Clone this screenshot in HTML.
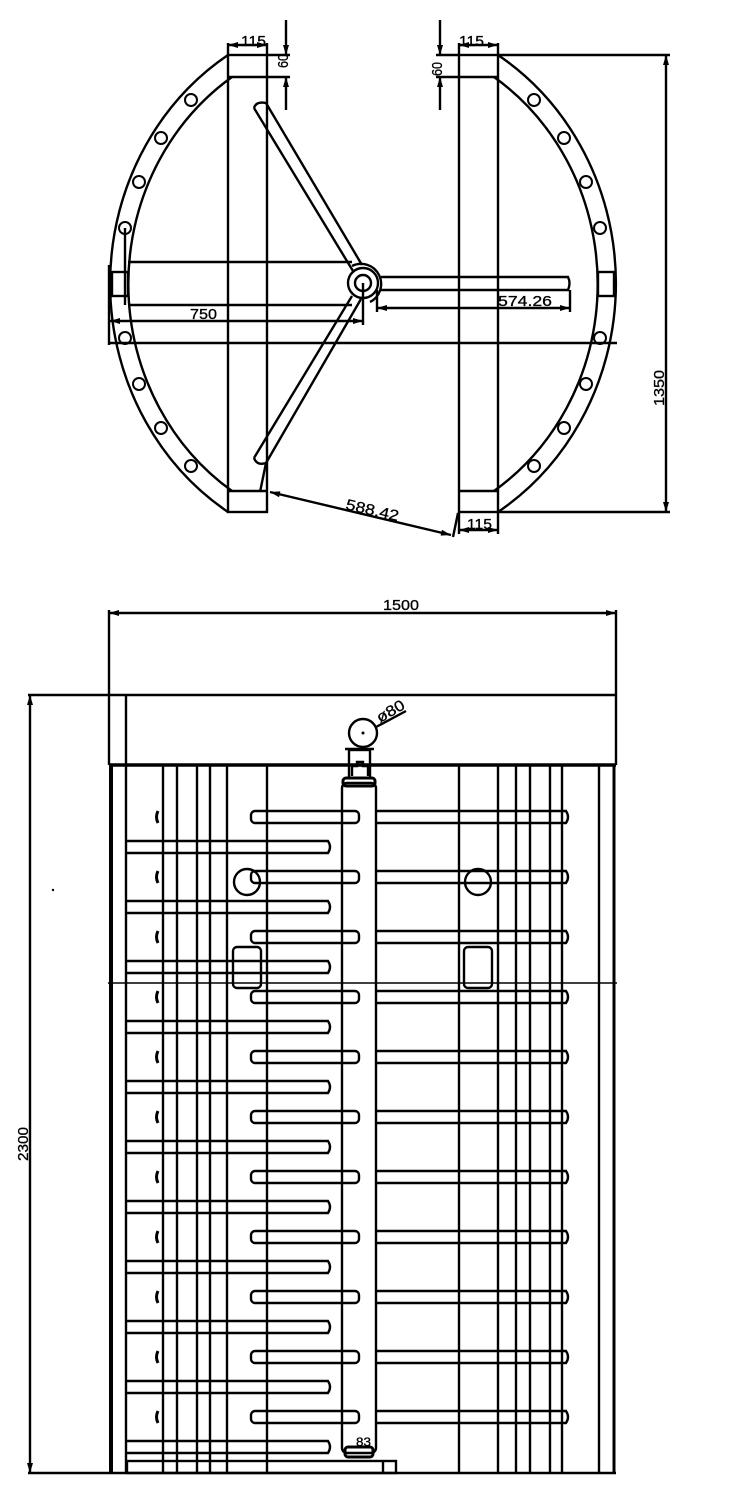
<!DOCTYPE html>
<html><head><meta charset="utf-8"><style>
html,body{margin:0;padding:0;background:#fff;}
svg{display:block;}
text{font-family:"Liberation Sans",sans-serif;font-size:15px;fill:#000;stroke:#000;stroke-width:0.3;}
</style></head><body>
<svg width="730" height="1506" viewBox="0 0 730 1506" xmlns="http://www.w3.org/2000/svg">
<defs>
<marker id="a" viewBox="0 0 10 6" refX="10" refY="3" markerWidth="14" markerHeight="6" markerUnits="userSpaceOnUse" orient="auto-start-reverse"><path d="M0,0 L10,3 L0,6 z" fill="#000"/></marker>
</defs>
<g fill="none" stroke="#000" stroke-width="2.4">
<rect x="228" y="55" width="39" height="457"/>
<line x1="228" y1="77" x2="267" y2="77"/><line x1="228" y1="491" x2="267" y2="491"/>
<rect x="459" y="55" width="39" height="457"/>
<line x1="459" y1="77" x2="498" y2="77"/><line x1="459" y1="491" x2="498" y2="491"/>
<path d="M228,55 A255,271 0 0 0 228,512"/>
<path d="M232,77 A236,250 0 0 0 232,491"/>
<path d="M498,55 A255,271 0 0 1 498,512"/>
<path d="M494,77 A236,250 0 0 1 494,491"/>
<g stroke-width="2">
<circle cx="191" cy="100" r="6"/><circle cx="161" cy="138" r="6"/><circle cx="139" cy="182" r="6"/><circle cx="125" cy="228" r="6"/>
<circle cx="125" cy="338" r="6"/><circle cx="139" cy="384" r="6"/><circle cx="161" cy="428" r="6"/><circle cx="191" cy="466" r="6"/>
<circle cx="534" cy="100" r="6"/><circle cx="564" cy="138" r="6"/><circle cx="586" cy="182" r="6"/><circle cx="600" cy="228" r="6"/>
<circle cx="600" cy="338" r="6"/><circle cx="586" cy="384" r="6"/><circle cx="564" cy="428" r="6"/><circle cx="534" cy="466" r="6"/>
</g>
<rect x="112" y="272" width="16" height="24"/>
<rect x="598" y="272" width="16" height="24"/>
<line x1="128" y1="262" x2="352" y2="262"/>
<line x1="128" y1="305" x2="352" y2="305"/>
<line x1="125" y1="228" x2="125" y2="305"/>
<path d="M381,277 L568,277 Q571,283 568,290 L381,290"/>
<circle cx="363" cy="283" r="8"/><circle cx="363" cy="283" r="15"/>
<path d="M352,266 A20,20 0 1 1 370,302"/>
<line x1="254" y1="108" x2="353" y2="271"/><line x1="266" y1="103" x2="362" y2="265"/>
<path d="M254,108 Q256,101 266,103"/>
<line x1="254" y1="458" x2="352" y2="296"/><line x1="266" y1="463" x2="361" y2="299"/>
<path d="M254,458 Q257,466 266,463"/>
<line x1="260" y1="492" x2="266" y2="463"/>
<line x1="109" y1="265" x2="109" y2="345"/>
<line x1="363" y1="283" x2="363" y2="325"/>
<line x1="110" y1="321" x2="363" y2="321" marker-start="url(#a)" marker-end="url(#a)"/>
<line x1="377" y1="290" x2="377" y2="312"/><line x1="570" y1="290" x2="570" y2="312"/>
<line x1="377" y1="308" x2="570" y2="308" marker-start="url(#a)" marker-end="url(#a)"/>
<line x1="108" y1="343" x2="617" y2="343"/>
<line x1="270" y1="492" x2="451" y2="535" marker-start="url(#a)" marker-end="url(#a)"/>
<line x1="453" y1="537" x2="458" y2="513"/>
<line x1="228" y1="45" x2="267" y2="45" marker-start="url(#a)" marker-end="url(#a)"/>
<line x1="228" y1="43" x2="228" y2="55"/><line x1="267" y1="43" x2="267" y2="55"/>
<line x1="459" y1="45" x2="498" y2="45" marker-start="url(#a)" marker-end="url(#a)"/>
<line x1="459" y1="43" x2="459" y2="55"/><line x1="498" y1="43" x2="498" y2="55"/>
<line x1="459" y1="530" x2="498" y2="530" marker-start="url(#a)" marker-end="url(#a)"/>
<line x1="459" y1="512" x2="459" y2="534"/><line x1="498" y1="512" x2="498" y2="534"/>
<line x1="267" y1="55" x2="290" y2="55"/><line x1="267" y1="77" x2="290" y2="77"/>
<line x1="286" y1="20" x2="286" y2="55" marker-end="url(#a)"/>
<line x1="286" y1="110" x2="286" y2="77" marker-end="url(#a)"/>
<line x1="436" y1="55" x2="459" y2="55"/><line x1="436" y1="77" x2="459" y2="77"/>
<line x1="440" y1="20" x2="440" y2="55" marker-end="url(#a)"/>
<line x1="440" y1="110" x2="440" y2="77" marker-end="url(#a)"/>
<line x1="498" y1="55" x2="670" y2="55"/><line x1="498" y1="512" x2="670" y2="512"/>
<line x1="666" y1="55" x2="666" y2="512" marker-start="url(#a)" marker-end="url(#a)"/>

<line x1="109" y1="613" x2="616" y2="613" marker-start="url(#a)" marker-end="url(#a)"/>
<line x1="109" y1="610" x2="109" y2="695"/><line x1="616" y1="610" x2="616" y2="695"/>
<line x1="28" y1="695" x2="616" y2="695"/>
<line x1="30" y1="695" x2="30" y2="1473" marker-start="url(#a)" marker-end="url(#a)"/>
<line x1="109" y1="695" x2="109" y2="765"/><line x1="616" y1="695" x2="616" y2="765"/>
<line x1="126" y1="695" x2="126" y2="1473"/>
<line x1="109" y1="765" x2="616" y2="765" stroke-width="3.5"/>
<line x1="111" y1="765" x2="111" y2="1473" stroke-width="4"/>
<line x1="614" y1="765" x2="614" y2="1473" stroke-width="3"/>
<line x1="28" y1="1473" x2="616" y2="1473"/>
<line x1="108" y1="983" x2="617" y2="983" stroke-width="1.5"/>
<g>
<line x1="163" y1="765" x2="163" y2="1473"/><line x1="177" y1="765" x2="177" y2="1473"/>
<line x1="197" y1="765" x2="197" y2="1473"/><line x1="210" y1="765" x2="210" y2="1473"/>
<line x1="227" y1="765" x2="227" y2="1473"/><line x1="267" y1="765" x2="267" y2="1473"/>
<line x1="459" y1="765" x2="459" y2="1473"/><line x1="498" y1="765" x2="498" y2="1473"/>
<line x1="516" y1="765" x2="516" y2="1473"/><line x1="530" y1="765" x2="530" y2="1473"/>
<line x1="550" y1="765" x2="550" y2="1473"/><line x1="562" y1="765" x2="562" y2="1473"/>
<line x1="599" y1="765" x2="599" y2="1473"/>
</g>
<rect x="127" y="1461" width="269" height="12"/>
<line x1="383" y1="1461" x2="383" y2="1473"/>
<rect x="342" y="783" width="34" height="670" rx="5"/>
<rect x="343" y="778" width="32" height="8" rx="3" stroke-width="3"/>
<rect x="345" y="1447" width="28" height="10" rx="3" stroke-width="3"/>
<rect x="349" y="750" width="21" height="28"/>
<line x1="345" y1="749" x2="374" y2="749"/>
<path d="M352,776 L352,766 L357,766 L357,762 L363,762 L363,766 L368,766 L368,776"/>
<circle cx="363" cy="733" r="14"/>
<line x1="376" y1="727" x2="406" y2="711"/>
<circle cx="247" cy="882" r="13"/><circle cx="478" cy="882" r="13"/>
<rect x="233" y="947" width="28" height="41" rx="4"/>
<rect x="464" y="947" width="28" height="41" rx="4"/>
<g>
<path d="M127,841 H328 Q332,847 328,853 H127"/>
<path d="M127,901 H328 Q332,907 328,913 H127"/>
<path d="M127,961 H328 Q332,967 328,973 H127"/>
<path d="M127,1021 H328 Q332,1027 328,1033 H127"/>
<path d="M127,1081 H328 Q332,1087 328,1093 H127"/>
<path d="M127,1141 H328 Q332,1147 328,1153 H127"/>
<path d="M127,1201 H328 Q332,1207 328,1213 H127"/>
<path d="M127,1261 H328 Q332,1267 328,1273 H127"/>
<path d="M127,1321 H328 Q332,1327 328,1333 H127"/>
<path d="M127,1381 H328 Q332,1387 328,1393 H127"/>
<path d="M127,1441 H328 Q332,1447 328,1453 H127"/>
</g>
<g>
<rect x="251" y="811" width="108" height="12" rx="4"/><path d="M376,811 H566 Q570,817 566,823 H376"/>
<rect x="251" y="871" width="108" height="12" rx="4"/><path d="M376,871 H566 Q570,877 566,883 H376"/>
<rect x="251" y="931" width="108" height="12" rx="4"/><path d="M376,931 H566 Q570,937 566,943 H376"/>
<rect x="251" y="991" width="108" height="12" rx="4"/><path d="M376,991 H566 Q570,997 566,1003 H376"/>
<rect x="251" y="1051" width="108" height="12" rx="4"/><path d="M376,1051 H566 Q570,1057 566,1063 H376"/>
<rect x="251" y="1111" width="108" height="12" rx="4"/><path d="M376,1111 H566 Q570,1117 566,1123 H376"/>
<rect x="251" y="1171" width="108" height="12" rx="4"/><path d="M376,1171 H566 Q570,1177 566,1183 H376"/>
<rect x="251" y="1231" width="108" height="12" rx="4"/><path d="M376,1231 H566 Q570,1237 566,1243 H376"/>
<rect x="251" y="1291" width="108" height="12" rx="4"/><path d="M376,1291 H566 Q570,1297 566,1303 H376"/>
<rect x="251" y="1351" width="108" height="12" rx="4"/><path d="M376,1351 H566 Q570,1357 566,1363 H376"/>
<rect x="251" y="1411" width="108" height="12" rx="4"/><path d="M376,1411 H566 Q570,1417 566,1423 H376"/>
</g>
<g stroke-width="3">
<path d="M158,811 Q155,817 158,823"/><path d="M158,871 Q155,877 158,883"/><path d="M158,931 Q155,937 158,943"/>
<path d="M158,991 Q155,997 158,1003"/><path d="M158,1051 Q155,1057 158,1063"/><path d="M158,1111 Q155,1117 158,1123"/>
<path d="M158,1171 Q155,1177 158,1183"/><path d="M158,1231 Q155,1237 158,1243"/><path d="M158,1291 Q155,1297 158,1303"/>
<path d="M158,1351 Q155,1357 158,1363"/><path d="M158,1411 Q155,1417 158,1423"/>
</g>
</g>
<circle cx="363" cy="733" r="1.5" fill="#000"/>
<circle cx="53" cy="890" r="1.2" fill="#000"/>
<text x="241" y="46" textLength="25" lengthAdjust="spacingAndGlyphs">115</text>
<text x="459" y="46" textLength="25" lengthAdjust="spacingAndGlyphs">115</text>
<text x="467" y="529" textLength="25" lengthAdjust="spacingAndGlyphs">115</text>
<text transform="translate(288,68) rotate(-90)" textLength="14" lengthAdjust="spacingAndGlyphs">60</text>
<text transform="translate(442,76) rotate(-90)" textLength="14" lengthAdjust="spacingAndGlyphs">60</text>
<text x="190" y="319" textLength="27" lengthAdjust="spacingAndGlyphs">750</text>
<text x="498" y="306" textLength="54" lengthAdjust="spacingAndGlyphs">574.26</text>
<text transform="translate(345,509) rotate(13)" textLength="54" lengthAdjust="spacingAndGlyphs">588.42</text>
<text transform="translate(664,406) rotate(-90)" textLength="36" lengthAdjust="spacingAndGlyphs">1350</text>
<text x="383" y="610" textLength="36" lengthAdjust="spacingAndGlyphs">1500</text>
<text transform="translate(28,1161) rotate(-90)" textLength="34" lengthAdjust="spacingAndGlyphs">2300</text>
<text transform="translate(380,723) rotate(-30)" textLength="30" lengthAdjust="spacingAndGlyphs">ø80</text>
<text x="356" y="1446" style="font-size:12px" textLength="15" lengthAdjust="spacingAndGlyphs">83</text>
</svg>
</body></html>
